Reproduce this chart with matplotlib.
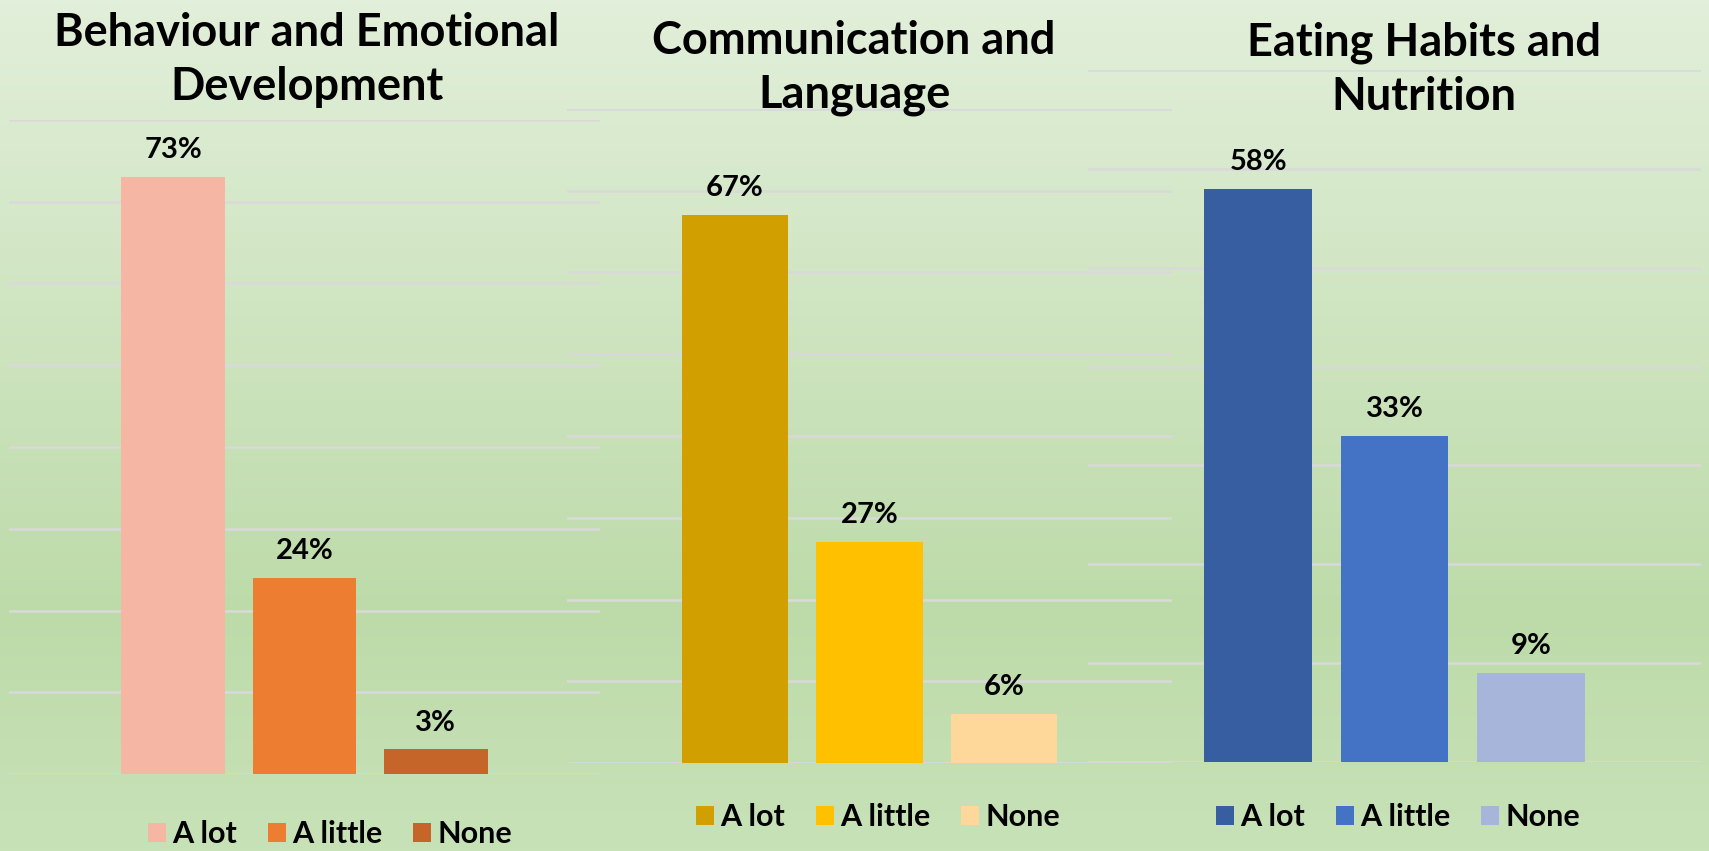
import numpy as np
import matplotlib.pyplot as plt
from matplotlib.colors import LinearSegmentedColormap

plt.rcParams['font.family'] = ['Lato', 'DejaVu Sans']
plt.rcParams['font.weight'] = 'bold'

# data
categories = ["A lot", "A little", "None"]
titles = ["Behaviour and Emotional\nDevelopment",
          "Communication and\nLanguage",
          "Eating Habits and\nNutrition"]
behaviour = [73, 24, 3]
communication = [67, 27, 6]
eating = [58, 33, 9]
y_max = [80, 80, 70]

colors = [["#f5b7a4", "#ed7d31", "#c5652a"],
          ["#d29f00", "#ffc000", "#fed89b"],
          ["#365ea1", "#4472c4", "#a7b5da"]]

W, H = 1709, 851
fig = plt.figure(figsize=(W / 100, H / 100), dpi=100)

# background gradient
bg = fig.add_axes([0, 0, 1, 1], zorder=-10)
cmap = LinearSegmentedColormap.from_list(
    "bg", [(0, "#e2efda"), (0.72, "#bddba9"), (1, "#c8e2b8")])
bg.imshow(np.linspace(0, 1, 256).reshape(-1, 1), cmap=cmap, aspect='auto',
          extent=[0, 1, 0, 1])
bg.axis('off')

# axes boxes in pixels: left, right, baseline, top-of-range
boxes = [(9, 600, 774, 120), (567, 1172, 763, 109), (1088, 1701, 762, 70)]
title_pos = [(307, 60), (854, 68), (1424, 70)]
legend_pos = [(330, 834), (878, 817), (1398, 817)]

for i, vals in enumerate([behaviour, communication, eating]):
    l, r, b, t = boxes[i]
    ax = fig.add_axes([l / W, 1 - b / H, (r - l) / W, (b - t) / H])
    ax.patch.set_alpha(0)
    x = np.arange(len(categories))
    bars = ax.bar(x, vals, width=0.79, color=colors[i], label=categories, zorder=3)
    ax.bar_label(bars, labels=[f"{v}%" for v in vals], padding=10,
                 fontsize=21, fontweight='bold')
    ax.set_xlim(-1.25, 3.25)
    ax.set_ylim(0, y_max[i])
    ax.set_yticks(np.arange(0, y_max[i] + 1, 10))
    ax.yaxis.grid(True, color='#d9d9d9', lw=1.8)
    ax.set_axisbelow(True)
    ax.tick_params(length=0, labelleft=False, labelbottom=False)
    for s in ax.spines.values():
        s.set_visible(False)
    tx, ty = title_pos[i]
    fig.text(tx / W, 1 - ty / H, titles[i], ha='center', va='center',
             fontsize=32.5, fontweight='bold', linespacing=1.35)
    lx, ly = legend_pos[i]
    fig.legend(handles=list(bars), labels=categories, loc='center',
               bbox_to_anchor=(lx / W, 1 - ly / H), ncol=3, frameon=False,
               prop={'size': 22, 'weight': 'bold'},
               handlelength=0.6, handleheight=0.6,
               handletextpad=0.2, columnspacing=1.0, borderaxespad=0)

fig.savefig("out.png", dpi=100)
